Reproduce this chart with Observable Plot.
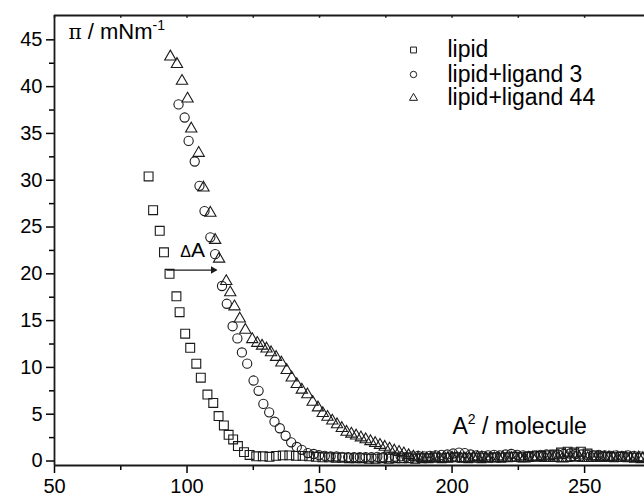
<!DOCTYPE html>
<html>
<head>
<meta charset="utf-8">
<script src="https://cdn.jsdelivr.net/npm/d3@7"></script>
<script src="https://cdn.jsdelivr.net/npm/@observablehq/plot@0.6"></script>
<style>
  html, body { margin: 0; padding: 0; background: #fff; }
  #chart { width: 644px; height: 499px; }
</style>
</head>
<body>
<div id="chart"></div>
<script>
// ---- data (area A^2/molecule, surface pressure mN/m) ----
const seriesNames = ["lipid", "lipid+ligand 3", "lipid+ligand 44"];

const lipid = [
  [85.5,30.4],[87.2,26.8],[89.7,24.6],[91.3,22.3],[93.4,20.0],[96.0,17.6],[97.2,15.9],[99.3,13.6],
  [101.2,12.1],[103.5,10.4],[105.2,8.9],[107.7,7.1],[109.9,6.2],[111.9,4.8],[113.9,3.8],[115.7,2.8],
  [117.4,2.3],[119.2,1.6],[121.5,0.95],[123.6,0.65],[126.1,0.5],[128.6,0.5],[131.1,0.45],[133.6,0.55],
  [136.1,0.6],[138.6,0.6],[141.1,0.55],[143.6,0.55],[146.1,0.5],[148.6,0.45],[151.1,0.4],[153.6,0.4],
  [156.1,0.35],[158.6,0.35],[161.1,0.3],[163.6,0.3],[166.1,0.3],[168.6,0.25],[171.1,0.25],[173.6,0.3],
  [176.1,0.25],[178.6,0.3],[181.1,0.3],[183.6,0.3],[186.1,0.25],[188.6,0.3],[191.1,0.3],[193.6,0.35],
  [196.1,0.3],[198.6,0.35],[201.1,0.4],[203.6,0.35],[206.1,0.3],[208.6,0.35],[211.1,0.3],[213.6,0.35],
  [216.1,0.4],[218.6,0.35],[221.1,0.4],[223.6,0.45],[226.1,0.4],[228.6,0.45],[231.1,0.5],[233.6,0.55],
  [236.1,0.6],[238.6,0.7],[241.1,0.9],[243.6,1.0],[246.1,0.9],[248.6,1.0],[251.1,0.8],[253.6,0.6],
  [256.1,0.5],[258.6,0.45],[261.1,0.4],[263.6,0.45],[266.1,0.4],[268.6,0.35],[271.1,0.3]
];

const ligand3 = [
  [96.8,38.1],[99.1,36.7],[100.6,34.2],[102.9,32.0],[104.7,29.4],[106.6,26.7],[108.8,23.9],[110.6,22.1],
  [113.2,18.7],[115.0,16.8],[117.2,14.4],[119.0,13.1],[120.7,11.6],[122.7,10.4],[125.1,8.6],[127.0,7.5],
  [128.8,6.1],[131.0,5.2],[133.0,4.2],[135.0,3.5],[137.2,2.7],[139.3,2.0],[141.4,1.5],[143.3,1.2],
  [145.6,0.85],[147.8,0.75],[149.8,0.62],[152.0,0.55],[154.2,0.5],[156.4,0.48],[158.6,0.45],[160.8,0.42],
  [163.0,0.42],[165.2,0.4],[167.4,0.42],[169.6,0.4],[171.8,0.45],[174.0,0.4],[176.2,0.42],[178.4,0.45],
  [180.6,0.5],[182.8,0.45],[185.0,0.5],[187.2,0.55],[189.4,0.5],[191.6,0.55],[193.8,0.6],[196.0,0.65],
  [198.2,0.7],[200.4,0.8],[202.6,0.9],[204.8,0.85],[207.0,0.7],[209.2,0.6],[211.4,0.55],[213.6,0.6],
  [215.8,0.65],[218.0,0.6],[220.2,0.7],[222.4,0.75],[224.6,0.65],[226.8,0.6],[229.0,0.55],[231.2,0.6],
  [233.4,0.65],[235.6,0.7],[237.8,0.65],[240.0,0.7],[242.2,0.75],[244.4,0.8],[246.6,0.75],[248.8,0.7],
  [251.0,0.65],[253.2,0.6],[255.4,0.65],[257.6,0.6],[259.8,0.55],[262.0,0.6],[264.2,0.55],[266.4,0.6],
  [268.6,0.55],[270.8,0.5]
];

const ligand44 = [
  [93.7,43.2],[96.2,42.4],[98.1,40.6],[100.2,38.7],[101.6,35.5],[104.4,32.9],[106.2,29.2],[108.8,26.5],
  [110.6,23.6],[112.1,21.6],[114.8,19.2],[116.3,18.0],[117.9,16.5],[119.9,15.2],[122.0,14.0],[124.6,13.0],
  [126.5,12.6],[128.3,12.3],[130.0,12.0],[131.7,11.6],[133.6,11.1],[135.6,10.5],[137.6,9.7],[139.5,8.9],
  [141.4,8.2],[143.3,7.6],[145.4,7.1],[147.4,6.3],[149.4,5.7],[151.2,5.1],[153.0,4.7],[154.8,4.3],
  [156.6,3.9],[158.4,3.5],[160.2,3.1],[162.0,2.9],[163.8,2.7],[165.6,2.5],[167.4,2.3],[169.2,2.1],
  [171.0,1.9],[172.8,1.7],[174.6,1.5],[176.4,1.3],[178.2,1.1],[180.0,0.95],[181.8,0.8],[183.6,0.6],
  [185.4,0.45],[187.2,0.35],[188.8,0.3],[190.4,0.25],[192.0,0.3],[193.6,0.35],[195.2,0.3],[196.8,0.25],
  [198.4,0.3],[200.0,0.35],[201.6,0.3],[203.2,0.3],[204.8,0.25],[206.4,0.3],[208.0,0.35],[209.6,0.4],
  [211.2,0.35],[212.8,0.3],[214.4,0.3],[216.0,0.25],[217.6,0.3],[219.2,0.35],[220.8,0.3],[222.4,0.3],
  [224.0,0.35],[225.6,0.3],[227.2,0.25],[228.8,0.3],[230.4,0.35],[232.0,0.4],[233.6,0.35],[235.2,0.3],
  [236.8,0.3],[238.4,0.35],[240.0,0.3],[241.6,0.25],[243.2,0.3],[244.8,0.35],[246.4,0.4],[248.0,0.35],
  [249.6,0.3],[251.2,0.3],[252.8,0.35],[254.4,0.3],[256.0,0.3],[257.6,0.35],[259.2,0.4],[260.8,0.35],
  [262.4,0.3],[264.0,0.3],[265.6,0.35],[267.2,0.3],[268.8,0.3],[270.4,0.35],[272.0,0.3]
];

// axis ticks
const xMajorTicks = [50, 100, 150, 200, 250];
const xMinorTicks = [75, 125, 175, 225];
const yMajorTicks = [0, 5, 10, 15, 20, 25, 30, 35, 40, 45];
const yMinorTicks = [2.5, 7.5, 12.5, 17.5, 22.5, 27.5, 32.5, 37.5, 42.5];
const xDomain = [50, 272.6];
const yDomain = [-0.48, 47.6];

// ΔA annotation arrow (area from → to, at pressure)
const deltaArrow = [{from: 92.2, to: 111.0, pi: 20.4}];

// ---- chart ----
const ink = "#1a1a1a";
const symbols = ["square", "circle", "triangle"];
const radii = [5.0, 4.6, 4.2];
const legendR = [3.3, 3.2, 3.0];
const seriesData = [lipid, ligand3, ligand44];
const legendRowY = [34.5, 59, 82.5]; // offsets from top of frame

const dataMarks = seriesData.map((s, i) =>
  Plot.dot(s, {x: d => d[0], y: d => d[1], symbol: () => symbols[i], r: radii[i],
    stroke: ink, strokeWidth: 1.1, fill: "none"}));

const legendMarks = seriesNames.flatMap((name, i) => [
  Plot.dot([name], {frameAnchor: "top-left", dx: 359, dy: legendRowY[i], symbol: () => symbols[i],
    r: legendR[i], stroke: ink, strokeWidth: 1, fill: "none"}),
  Plot.text([name], {text: d => d, frameAnchor: "top-left", dx: 393, dy: legendRowY[i],
    textAnchor: "start", lineAnchor: "middle", fontSize: 23, fill: "#000"})
]);

const svg = Plot.plot({
  width: 644,
  height: 499,
  marginLeft: 54,
  marginRight: 0,
  marginTop: 15,
  marginBottom: 34,
  x: {domain: xDomain},
  y: {domain: yDomain},
  style: {fontFamily: "'Liberation Sans', Arial, sans-serif", fontSize: "20px", background: "#fff", color: "#000"},
  marks: [
    Plot.axisY(yMajorTicks, {tickSize: 8, tickPadding: 4, strokeWidth: 1.5, label: null, tickFormat: d => String(d)}),
    Plot.axisY(yMinorTicks, {tickSize: 5, strokeWidth: 1.5, text: null, label: null}),
    Plot.axisX(xMajorTicks, {tickSize: 8, tickPadding: 5, strokeWidth: 1.5, label: null, tickFormat: d => String(d)}),
    Plot.axisX(xMinorTicks, {tickSize: 5, strokeWidth: 1.5, text: null, label: null}),
    Plot.ruleX(xMajorTicks.concat(xMinorTicks), {y1: yDomain[1], y2: yDomain[1] - 0.3, stroke: ink, strokeWidth: 1.5}),
    Plot.ruleX([xDomain[0]], {stroke: ink, strokeWidth: 1.8}),
    Plot.ruleY([yDomain[0]], {stroke: ink, strokeWidth: 1.8}),
    Plot.ruleY([yDomain[1]], {stroke: ink, strokeWidth: 1.8}),
    ...dataMarks,
    Plot.link(deltaArrow, {x1: "from", x2: d => d.to, y1: "pi", y2: "pi", stroke: ink, strokeWidth: 1.3}),
    Plot.dot(deltaArrow, {x: "to", y: "pi", symbol: "triangle", rotate: 90, r: 2.8, fill: ink, stroke: "none", dx: -3}),
    Plot.text(deltaArrow, {x: "from", y: "pi", text: () => "ΔA", textAnchor: "start", lineAnchor: "bottom",
      dx: 14, dy: -13, fontSize: 21, fill: "#000"}),
    Plot.text(["π / mNm"], {text: d => d, frameAnchor: "top-left", dx: 14, dy: 23, textAnchor: "start",
      lineAnchor: "bottom", fontSize: 22, fill: "#000"}),
    Plot.text(["A / molecule"], {text: d => d, frameAnchor: "bottom-left", dx: 398, dy: -32, textAnchor: "start",
      lineAnchor: "bottom", fontSize: 23, fill: "#000"}),
    ...legendMarks
  ]
});

// superscripts / symbol glyphs as real text
d3.select(svg).selectAll("text").each(function() {
  const t = d3.select(this);
  const s = this.textContent;
  if (s === "π / mNm") {
    t.text(null);
    t.append("tspan").attr("font-family", "'DejaVu Serif', serif").attr("font-size", 20).text("π");
    t.append("tspan").text(" / mNm");
    t.append("tspan").attr("font-size", 14).attr("dy", -9).text("-1");
  } else if (s === "A / molecule") {
    t.text(null);
    t.append("tspan").text("A");
    t.append("tspan").attr("font-size", 14).attr("dy", -10).text("2");
    t.append("tspan").attr("dy", 10).text(" / molecule");
  } else if (s === "ΔA") {
    t.text(null);
    t.append("tspan").attr("font-size", 16).text("Δ");
    t.append("tspan").text("A");
  }
});

document.getElementById("chart").appendChild(svg);
</script>
</body>
</html>
